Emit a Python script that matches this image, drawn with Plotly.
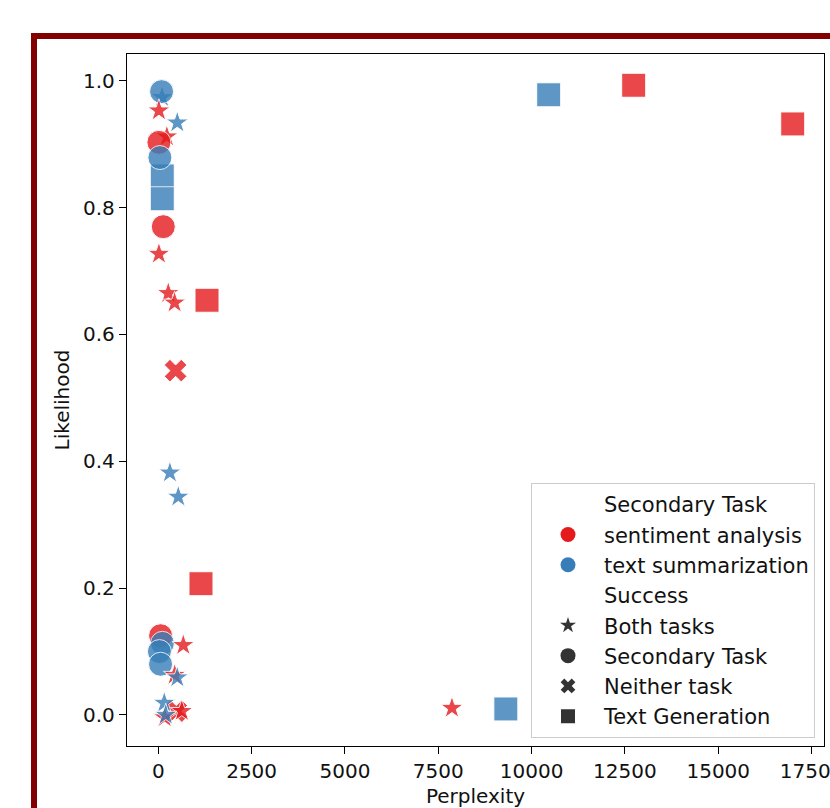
import plotly.graph_objects as go

# Per-run measurements
perplexity = [100, 88, 17, 509, 230, 17, 107, 107, 43, 134, 17, 268, 437, 1305,
              464, 311, 536, 1144, 62, 110, 30, 60, 670, 440, 509, 480, 630,
              170, 160, 200, 7867, 9310, 10458, 12735, 16995]
likelihood = [0.974, 0.983, 0.953, 0.934, 0.912, 0.903, 0.850, 0.814, 0.879,
              0.770, 0.727, 0.665, 0.650, 0.654, 0.543, 0.382, 0.344, 0.207,
              0.125, 0.113, 0.100, 0.080, 0.110, 0.063, 0.059, 0.006, 0.006,
              -0.004, 0.019, 0.000, 0.011, 0.0095, 0.978, 0.993, 0.932]
secondary_task = ["text summarization", "text summarization", "sentiment analysis",
                  "text summarization", "sentiment analysis", "sentiment analysis",
                  "text summarization", "text summarization", "text summarization",
                  "sentiment analysis", "sentiment analysis", "sentiment analysis",
                  "sentiment analysis", "sentiment analysis", "sentiment analysis",
                  "text summarization", "text summarization", "sentiment analysis",
                  "sentiment analysis", "text summarization", "text summarization",
                  "text summarization", "sentiment analysis", "sentiment analysis",
                  "text summarization", "sentiment analysis", "sentiment analysis",
                  "sentiment analysis", "text summarization", "text summarization",
                  "sentiment analysis", "text summarization", "text summarization",
                  "sentiment analysis", "sentiment analysis"]
success = ["Both tasks", "Secondary Task", "Both tasks", "Both tasks", "Both tasks",
           "Secondary Task", "Text Generation", "Text Generation", "Secondary Task",
           "Secondary Task", "Both tasks", "Both tasks", "Both tasks", "Text Generation",
           "Neither task", "Both tasks", "Both tasks", "Text Generation",
           "Secondary Task", "Secondary Task", "Secondary Task", "Secondary Task",
           "Both tasks", "Both tasks", "Both tasks", "Neither task", "Both tasks",
           "Both tasks", "Both tasks", "Both tasks", "Both tasks", "Text Generation",
           "Text Generation", "Text Generation", "Text Generation"]

task_order = ["sentiment analysis", "text summarization"]
success_order = ["Both tasks", "Secondary Task", "Neither task", "Text Generation"]
x_ticks = [0, 2500, 5000, 7500, 10000, 12500, 15000, 17500]
y_ticks = [0.0, 0.2, 0.4, 0.6, 0.8, 1.0]

# Styling
task_color = {"sentiment analysis": "#e41a1c", "text summarization": "#377eb8"}
success_symbol = {"Both tasks": "star", "Secondary Task": "circle",
                  "Neither task": "x", "Text Generation": "square"}
success_size = {"Both tasks": 17, "Secondary Task": 24,
                "Neither task": 20, "Text Generation": 24}
legend_size = {"Both tasks": 12, "Secondary Task": 15,
               "Neither task": 13, "Text Generation": 14}
FONT = "DejaVu Sans"

fig = go.Figure()

fig.add_trace(go.Scatter(
    x=perplexity, y=likelihood, mode="markers", showlegend=False,
    marker=dict(
        color=[task_color[t] for t in secondary_task],
        symbol=[success_symbol[s] for s in success],
        size=[success_size[s] for s in success],
        opacity=0.8,
        line=dict(color="white", width=1),
    ),
))

# Legend entries (headings carry an invisible marker)
def legend_entry(name, color, symbol, size, visible=True):
    fig.add_trace(go.Scatter(
        x=[None], y=[None], mode="markers", name=name, showlegend=True,
        marker=dict(color=color, symbol=symbol, size=size,
                    opacity=1 if visible else 0, line=dict(width=0)),
    ))

legend_entry("Secondary Task", "white", "circle", 10, visible=False)
for t in task_order:
    legend_entry(t, task_color[t], "circle", 15)
legend_entry("Success", "white", "circle", 10, visible=False)
for s in success_order:
    legend_entry(s, "#333333", success_symbol[s], legend_size[s])

W, H = 830, 808
L, R, T, B = 127, 6, 54, 62
pw, ph = W - L - R, H - T - B

def px_to_paper_x(px):
    return (px - L) / pw

def px_to_paper_y(py):
    return (H - B - py) / ph

# Dark red frame around the figure
fig.add_shape(type="rect", xref="paper", yref="paper",
              x0=px_to_paper_x(34), x1=px_to_paper_x(900),
              y0=px_to_paper_y(36), y1=px_to_paper_y(900),
              line=dict(color="#820000", width=6), fillcolor="rgba(0,0,0,0)",
              layer="below")

axis_common = dict(
    showgrid=False, zeroline=False, showline=True, mirror=True,
    linecolor="black", linewidth=1.3, ticks="outside", ticklen=7,
    tickwidth=1.3, tickcolor="black", ticklabeloverflow="allow",
    tickfont=dict(family=FONT, size=20, color="#111111"),
)

fig.update_layout(
    width=W, height=H,
    margin=dict(l=L, r=R, t=T, b=B, autoexpand=False),
    paper_bgcolor="white", plot_bgcolor="white",
    font=dict(family=FONT, size=20, color="#111111"),
    xaxis=dict(range=[-838, 17833], tickvals=x_ticks,
               ticktext=[str(v) for v in x_ticks],
               title=dict(text="Perplexity", standoff=9,
                          font=dict(family=FONT, size=20)),
               **axis_common),
    yaxis=dict(range=[-0.0489, 1.0423], tickvals=y_ticks,
               ticktext=[f"{v:.1f}" for v in y_ticks],
               title=dict(text="Likelihood", standoff=8,
                          font=dict(family=FONT, size=20)),
               **axis_common),
    legend=dict(
        x=px_to_paper_x(531), y=px_to_paper_y(483),
        xanchor="left", yanchor="top",
        bgcolor="rgba(255,255,255,0.8)", bordercolor="#cccccc", borderwidth=1,
        font=dict(family=FONT, size=21, color="#111111"),
        itemsizing="trace", itemwidth=62, traceorder="normal",
        tracegroupgap=0,
    ),
)

fig.write_html("out.html")
